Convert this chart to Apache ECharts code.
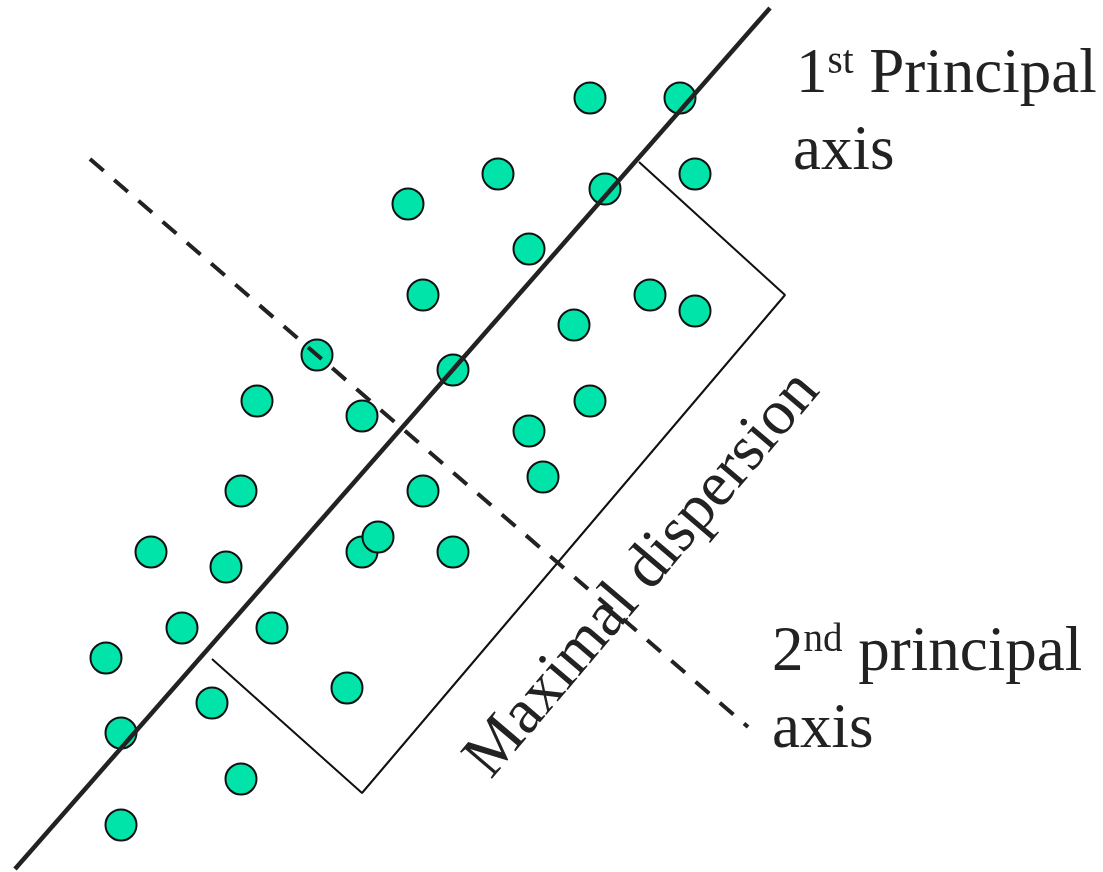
<!DOCTYPE html>
<html>
<head>
<meta charset="utf-8">
<title>Principal axes</title>
<script src="https://cdn.jsdelivr.net/npm/echarts@6/dist/echarts.min.js"></script>
<style>
  html, body { margin: 0; padding: 0; background: #fff; }
  #main { width: 1103px; height: 872px; }
</style>
</head>
<body>
<div id="main"></div>
<script>
// data points (x, y in drawing units, y grows downward)
var points = [
  [590, 98], [680, 98], [498, 174], [695, 174], [408, 204], [605, 189],
  [529, 249], [423, 295], [650, 295], [695, 311], [574, 325], [317, 355],
  [453, 370], [257, 401], [362, 416], [590, 401], [529, 431], [543, 477],
  [241, 491], [423, 491], [151, 552], [226, 567], [362, 552], [378, 537],
  [453, 552], [182, 628], [272, 628], [106, 658], [347, 688], [212, 703],
  [121, 733], [241, 779], [121, 825]
];
// 1st principal axis (solid)
var firstAxis = [[15, 869], [770, 8]];
// 2nd principal axis (dashed)
var secondAxis = [[90, 159], [748, 727]];
// box showing the maximal dispersion
var dispersionBox = [[212, 659], [362, 793], [785, 295], [639, 162]];

var chart = echarts.init(document.getElementById('main'));
var serif = '"Liberation Serif", "DejaVu Serif", serif';

var option = {
  animation: false,
  backgroundColor: '#fff',
  grid: { left: 0, right: 0, top: 0, bottom: 0 },
  xAxis: { type: 'value', min: 0, max: 1103, show: false },
  yAxis: { type: 'value', min: 0, max: 872, inverse: true, show: false },
  series: [
    {
      type: 'scatter',
      data: points,
      symbolSize: 31,
      itemStyle: { color: '#00E3A9', borderColor: '#111', borderWidth: 2, opacity: 1 }
    },
    {
      type: 'line',
      data: dispersionBox,
      symbol: 'none',
      lineStyle: { color: '#111', width: 2 }
    },
    {
      type: 'line',
      data: secondAxis,
      symbol: 'none',
      lineStyle: { color: '#222', width: 4, type: [18, 14] }
    },
    {
      type: 'line',
      data: firstAxis,
      symbol: 'none',
      lineStyle: { color: '#222', width: 4.5 }
    }
  ],
  graphic: [
    {
      type: 'text', x: 796, y: 75,
      style: {
        text: '{a|1}{b|st}{a| Principal}',
        verticalAlign: 'middle',
        fill: '#222',
        rich: {
          a: { fontFamily: serif, fontSize: 63, fill: '#222' },
          b: { fontFamily: serif, fontSize: 39, fill: '#222', verticalAlign: 'top' }
        }
      }
    },
    {
      type: 'text', x: 793, y: 152,
      style: { text: 'axis', font: '63px ' + serif, fill: '#222', verticalAlign: 'middle' }
    },
    {
      type: 'text', x: 772, y: 653,
      style: {
        text: '{a|2}{b|nd}{a| principal}',
        verticalAlign: 'middle',
        fill: '#222',
        rich: {
          a: { fontFamily: serif, fontSize: 63, fill: '#222' },
          b: { fontFamily: serif, fontSize: 39, fill: '#222', verticalAlign: 'top' }
        }
      }
    },
    {
      type: 'text', x: 772, y: 730,
      style: { text: 'axis', font: '63px ' + serif, fill: '#222', verticalAlign: 'middle' }
    },
    {
      type: 'text', x: 643, y: 575, rotation: 0.867,
      style: {
        text: 'Maximal dispersion', font: '64px ' + serif, fill: '#222',
        align: 'center', verticalAlign: 'middle'
      }
    }
  ]
};

chart.setOption(option);
</script>
</body>
</html>
